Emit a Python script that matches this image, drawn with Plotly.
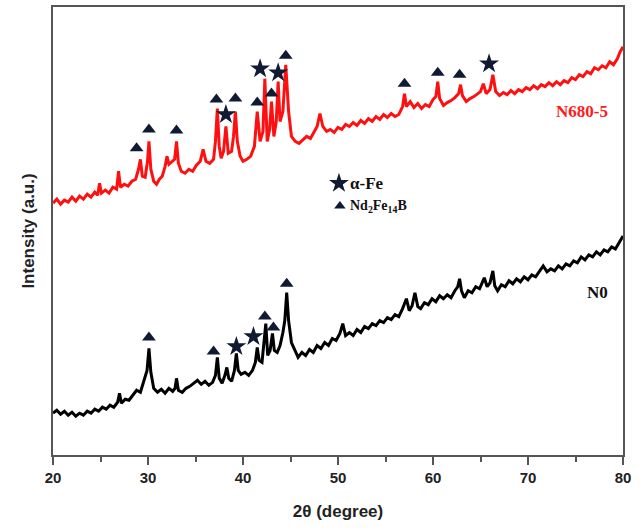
import plotly.graph_objects as go

# N680-5 (red) pattern: 2theta and intensity (a.u.)
red_x = [20.0,20.4,20.8,21.2,21.6,22.0,22.4,22.8,23.2,23.6,24.0,24.4,24.7,24.9,25.1,25.5,25.9,26.3,26.7,26.9,27.1,27.5,27.9,28.3,28.7,29.0,29.2,29.4,29.7,29.95,30.1,30.3,30.6,30.9,31.2,31.5,31.8,32.0,32.2,32.5,32.8,33.0,33.2,33.5,33.9,34.3,34.7,35.1,35.5,35.8,36.1,36.5,36.9,37.1,37.3,37.5,37.7,37.95,38.2,38.45,38.8,39.0,39.2,39.4,39.7,40.0,40.4,40.8,41.2,41.5,41.8,42.1,42.3,42.55,42.8,43.0,43.25,43.5,43.7,43.9,44.2,44.5,44.8,45.1,45.5,45.9,46.3,46.7,47.1,47.5,47.8,48.1,48.4,48.8,49.2,49.6,50.0,50.4,50.8,51.2,51.6,52.0,52.4,52.8,53.2,53.6,54.0,54.4,54.8,55.2,55.6,56.0,56.4,56.8,57.0,57.2,57.6,58.0,58.4,58.8,59.2,59.6,60.0,60.3,60.5,60.7,61.1,61.5,61.9,62.3,62.7,62.9,63.1,63.5,63.9,64.3,64.7,65.0,65.3,65.6,66.0,66.3,66.6,67.0,67.4,67.8,68.2,68.6,69.0,69.4,69.8,70.2,70.6,71.0,71.4,71.8,72.2,72.6,73.0,73.4,73.8,74.2,74.6,75.0,75.4,75.8,76.2,76.6,77.0,77.4,77.8,78.2,78.6,79.0,79.4,79.7,80.0]
red_y = [253,257,252,256,254,259,255,260,257,262,259,264,261,273,263,266,263,269,267,285,269,272,270,275,277,287,297,280,279,295,315,287,275,272,277,280,290,300,292,295,297,315,293,285,283,287,285,291,295,307,295,293,297,315,348,310,298,305,330,303,305,320,345,315,300,295,297,300,310,345,315,325,378,315,327,355,320,335,375,335,345,392,345,320,315,313,317,320,318,325,330,343,330,325,327,324,329,327,332,330,334,331,336,333,338,335,340,337,342,339,343,340,342,350,363,350,355,349,353,348,352,350,357,360,375,358,351,354,356,359,363,372,361,355,358,360,363,365,373,363,367,382,365,361,364,362,366,363,367,365,369,367,371,368,372,370,374,371,375,372,376,374,379,377,382,380,385,383,389,387,391,389,395,392,398,405,410]

# N0 (black) pattern
blk_x = [20.0,20.4,20.8,21.2,21.6,22.0,22.4,22.8,23.2,23.6,24.0,24.4,24.8,25.2,25.6,26.0,26.4,26.8,27.0,27.2,27.6,28.0,28.4,28.8,29.2,29.6,29.9,30.1,30.3,30.6,31.0,31.4,31.8,32.2,32.6,32.85,33.0,33.2,33.6,34.0,34.4,34.8,35.2,35.6,36.0,36.4,36.8,37.1,37.3,37.5,37.8,38.1,38.3,38.5,38.8,39.1,39.3,39.5,39.8,40.2,40.6,41.0,41.3,41.5,41.7,42.0,42.2,42.4,42.6,42.85,43.1,43.3,43.6,43.9,44.2,44.4,44.6,44.8,45.1,45.5,45.8,46.2,46.6,47.0,47.4,47.8,48.2,48.6,49.0,49.4,49.8,50.2,50.5,50.8,51.2,51.6,52.0,52.4,52.8,53.2,53.6,54.0,54.4,54.8,55.2,55.6,56.0,56.4,56.8,57.2,57.5,57.8,58.1,58.4,58.7,59.1,59.5,59.9,60.3,60.7,61.1,61.5,61.9,62.3,62.6,62.8,63.0,63.3,63.7,64.1,64.5,64.9,65.2,65.4,65.7,66.0,66.3,66.5,66.8,67.2,67.6,68.0,68.4,68.8,69.2,69.6,70.0,70.4,70.8,71.2,71.6,72.0,72.4,72.8,73.2,73.6,74.0,74.4,74.8,75.2,75.6,76.0,76.4,76.8,77.2,77.6,78.0,78.4,78.8,79.2,79.5,79.8,80.0]
blk_y = [42,45,41,44,40,43,39,42,40,44,42,46,44,48,46,50,48,53,62,52,56,55,60,65,63,75,85,107,83,67,63,66,62,67,64,67,77,65,63,67,69,72,75,71,74,70,73,80,98,77,72,80,88,77,74,85,102,85,81,83,80,85,93,108,95,93,110,132,100,105,122,105,103,110,123,135,163,135,113,105,98,103,100,106,103,110,107,113,110,117,115,122,132,120,123,120,126,123,129,127,132,130,135,133,138,136,141,139,147,157,145,150,163,149,147,153,151,157,154,160,157,161,158,165,169,177,165,158,165,163,169,167,173,178,169,173,185,170,165,171,169,175,172,177,174,179,176,181,179,185,190,184,187,185,190,187,192,190,195,193,199,196,201,199,204,201,206,204,209,207,212,217,220]

# Phase marks
red_tri_x = [28.8,30.1,33.0,37.2,39.2,41.5,43.0,44.5,57.0,60.5,62.8]
red_tri_y = [308,327,326,357,358,354,363,401,373,384,382]
red_star_x = [38.2,41.8,43.7,65.9]
red_star_y = [342,388,384,393]
blk_tri_x = [30.1,36.9,42.3,43.2,44.6]
blk_tri_y = [118,104,139,128,172]
blk_star_x = [39.3,41.1]
blk_star_y = [109,119]

mark_col = "#111a33"

fig = go.Figure()
fig.add_trace(go.Scatter(x=red_x, y=red_y, mode="lines",
                         line=dict(color="#ff1010", width=3), hoverinfo="skip"))
fig.add_trace(go.Scatter(x=blk_x, y=blk_y, mode="lines",
                         line=dict(color="#000000", width=3), hoverinfo="skip"))
fig.add_trace(go.Scatter(x=red_tri_x + blk_tri_x, y=red_tri_y + blk_tri_y, mode="markers",
                         marker=dict(symbol="triangle-up", size=12, color=mark_col)))
fig.add_trace(go.Scatter(x=red_star_x + blk_star_x, y=red_star_y + blk_star_y, mode="markers",
                         marker=dict(symbol="star", size=15, color=mark_col)))
# legend marks
fig.add_trace(go.Scatter(x=[50.1], y=[273], mode="markers",
                         marker=dict(symbol="star", size=15, color=mark_col)))
fig.add_trace(go.Scatter(x=[50.2], y=[250], mode="markers",
                         marker=dict(symbol="triangle-up", size=10, color=mark_col)))

serif = "Liberation Serif"
fig.add_annotation(x=51.0, y=273, text="<b>α-Fe</b>", showarrow=False, xanchor="left",
                   font=dict(family=serif, size=17, color="#111"))
fig.add_annotation(x=51.0, y=250, text="<b>Nd<sub>2</sub>Fe<sub>14</sub>B</b>", showarrow=False,
                   xanchor="left", font=dict(family=serif, size=14, color="#111"))
fig.add_annotation(x=75.7, y=345, text="<b>N680-5</b>", showarrow=False,
                   font=dict(family=serif, size=17, color="#ff1a1a"))
fig.add_annotation(x=77.3, y=163, text="<b>N0</b>", showarrow=False,
                   font=dict(family=serif, size=17, color="#111"))

fig.update_layout(
    width=643, height=528,
    margin=dict(l=53, r=20, t=5, b=73),
    paper_bgcolor="white", plot_bgcolor="white",
    showlegend=False,
    font=dict(family="Liberation Sans", color="#222"),
)
fig.update_xaxes(range=[20, 80], dtick=10, tick0=20, showgrid=False, zeroline=False,
                 showline=True, linecolor="#555", linewidth=2, mirror=True,
                 ticks="outside", ticklen=8, tickwidth=2, tickcolor="#555",
                 minor=dict(dtick=5, ticks="outside", ticklen=5, tickwidth=2, tickcolor="#555"),
                 tickfont=dict(family="Liberation Sans", size=15, color="#222"),
                 tickprefix="<b>", ticksuffix="</b>",
                 title=dict(text="<b>2θ (degree)</b>", font=dict(family="Liberation Sans", size=17, color="#222"),
                            standoff=20))
fig.update_yaxes(range=[0, 450], showgrid=False, zeroline=False, showticklabels=False,
                 showline=True, linecolor="#555", linewidth=2, mirror=True, ticks="",
                 title=dict(text="<b>Intensity (a.u.)</b>", font=dict(family="Liberation Sans", size=17, color="#222"),
                            standoff=12))

fig.write_html("out.html")
